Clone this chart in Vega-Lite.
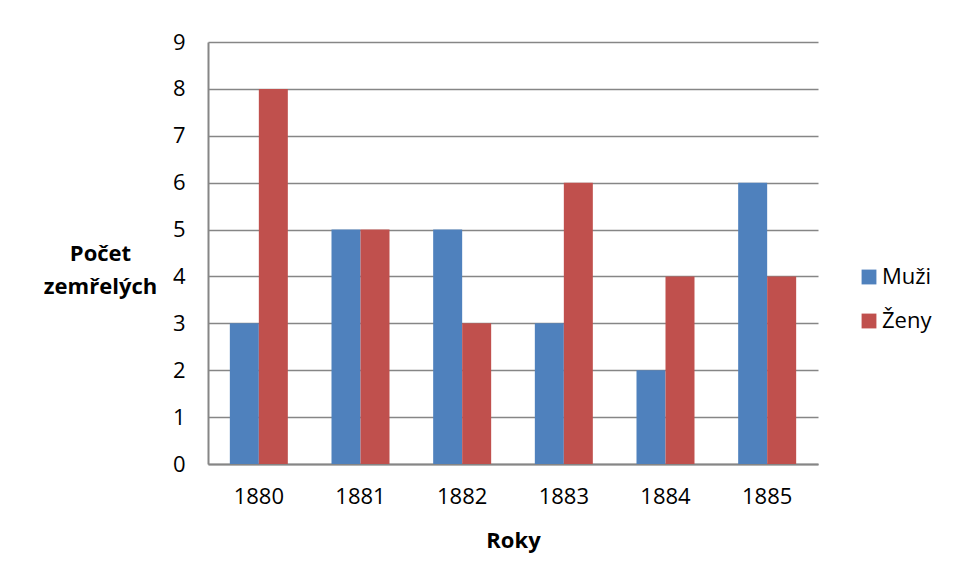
{
  "$schema": "https://vega.github.io/schema/vega-lite/v6.json",
  "autosize": {"type": "none"},
  "width": 610,
  "height": 422,
  "padding": {"left": 208, "top": 42, "right": 137, "bottom": 117},
  "background": "white",
  "config": {
    "font": "Open Sans",
    "view": {"stroke": null}
  },
  "data": {
    "values": [
      {"rok": "1880", "pohlavi": "Muži", "pocet": 3},
      {"rok": "1880", "pohlavi": "Ženy", "pocet": 8},
      {"rok": "1881", "pohlavi": "Muži", "pocet": 5},
      {"rok": "1881", "pohlavi": "Ženy", "pocet": 5},
      {"rok": "1882", "pohlavi": "Muži", "pocet": 5},
      {"rok": "1882", "pohlavi": "Ženy", "pocet": 3},
      {"rok": "1883", "pohlavi": "Muži", "pocet": 3},
      {"rok": "1883", "pohlavi": "Ženy", "pocet": 6},
      {"rok": "1884", "pohlavi": "Muži", "pocet": 2},
      {"rok": "1884", "pohlavi": "Ženy", "pocet": 4},
      {"rok": "1885", "pohlavi": "Muži", "pocet": 6},
      {"rok": "1885", "pohlavi": "Ženy", "pocet": 4}
    ]
  },
  "mark": {"type": "bar"},
  "encoding": {
    "x": {
      "field": "rok",
      "type": "nominal",
      "scale": {"paddingInner": 0, "paddingOuter": 0},
      "axis": {
        "title": "Roky",
        "titleFont": "Open Sans",
        "titleFontSize": 22,
        "titleFontWeight": "bold",
        "titleColor": "black",
        "titleBaseline": "middle",
        "titleY": 76,
        "labelAngle": 0,
        "labelFontSize": 22,
        "labelColor": "black",
        "labelPadding": 22,
        "ticks": false,
        "domainColor": "#868686",
        "domainWidth": 2
      }
    },
    "xOffset": {
      "field": "pohlavi",
      "type": "nominal",
      "scale": {"paddingInner": 0, "paddingOuter": 0.753}
    },
    "y": {
      "field": "pocet",
      "type": "quantitative",
      "scale": {"domain": [0, 9], "nice": false},
      "axis": {
        "values": [0, 1, 2, 3, 4, 5, 6, 7, 8, 9],
        "title": ["Počet", "zemřelých"],
        "titleAngle": 0,
        "titleAlign": "center",
        "titleBaseline": "middle",
        "titleX": -108,
        "titleY": 211,
        "titleLineHeight": 33,
        "titleFont": "Open Sans",
        "titleFontSize": 22,
        "titleFontWeight": "bold",
        "titleColor": "black",
        "labelFontSize": 22,
        "labelColor": "black",
        "labelPadding": 23,
        "ticks": false,
        "grid": true,
        "gridColor": "#868686",
        "gridWidth": 1.5,
        "domainColor": "#868686",
        "domainWidth": 2
      }
    },
    "color": {
      "field": "pohlavi",
      "type": "nominal",
      "scale": {"domain": ["Muži", "Ženy"], "range": ["#4F81BD", "#C0504D"]},
      "legend": {
        "title": null,
        "orient": "none",
        "legendX": 650,
        "legendY": 224,
        "symbolType": "square",
        "symbolSize": 220,
        "symbolStrokeWidth": 0,
        "symbolOpacity": 1,
        "labelFontSize": 22,
        "labelColor": "black",
        "labelOffset": 2,
        "rowPadding": 22
      }
    }
  }
}
